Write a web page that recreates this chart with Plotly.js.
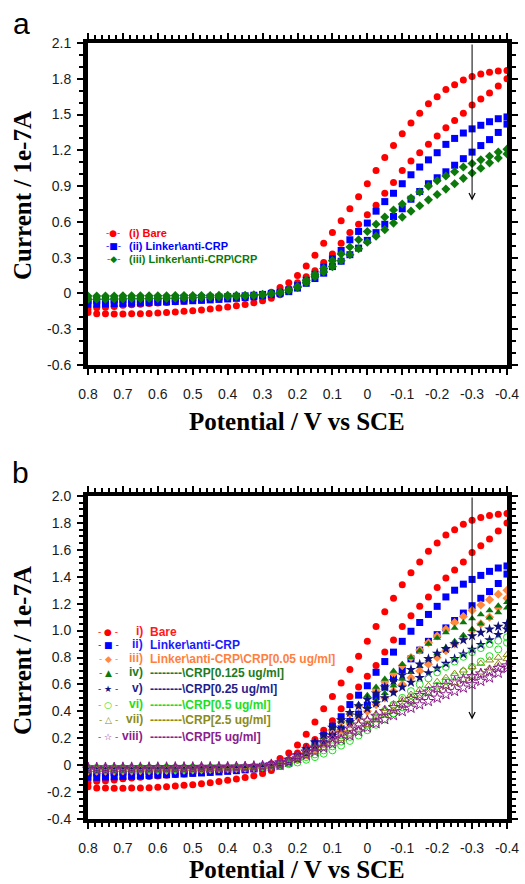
<!DOCTYPE html>
<html><head><meta charset="utf-8">
<script src="https://cdn.plot.ly/plotly-3.0.1.min.js"></script>
<style>html,body{margin:0;padding:0;background:#fff;} #chart{width:525px;height:884px;}</style>
</head><body><div id="chart"></div>
<script>
// Potential grid (V vs SCE), shared by every sweep
const potential = [0.8,0.775,0.75,0.725,0.7,0.675,0.65,0.625,0.6,0.575,0.55,0.525,0.5,0.475,0.45,0.425,0.4,0.375,0.35,0.325,0.3,0.275,0.25,0.225,0.2,0.175,0.15,0.125,0.1,0.075,0.05,0.025,0,-0.025,-0.05,-0.075,-0.1,-0.125,-0.15,-0.175,-0.2,-0.225,-0.25,-0.275,-0.3,-0.325,-0.35,-0.375,-0.4];

// (i) Bare
const bareFwd = [-0.13,-0.12,-0.115,-0.11,-0.10,-0.095,-0.09,-0.085,-0.08,-0.075,-0.07,-0.065,-0.06,-0.055,-0.05,-0.045,-0.04,-0.035,-0.03,-0.02,-0.01,0.01,0.05,0.09,0.15,0.23,0.32,0.42,0.51,0.61,0.71,0.81,0.92,1.03,1.14,1.24,1.34,1.43,1.51,1.59,1.65,1.71,1.75,1.79,1.82,1.84,1.855,1.865,1.87];
const bareRev = [-0.16,-0.17,-0.17,-0.172,-0.172,-0.17,-0.17,-0.168,-0.165,-0.16,-0.155,-0.15,-0.145,-0.138,-0.13,-0.122,-0.113,-0.103,-0.092,-0.078,-0.062,-0.04,-0.01,0.04,0.09,0.14,0.19,0.26,0.33,0.42,0.51,0.58,0.66,0.74,0.84,0.93,1.03,1.11,1.18,1.25,1.32,1.39,1.45,1.51,1.58,1.63,1.68,1.74,1.80];
// (ii) Linker\anti-CRP
const linkerFwd = [-0.06,-0.058,-0.056,-0.054,-0.052,-0.05,-0.048,-0.046,-0.044,-0.042,-0.04,-0.038,-0.036,-0.034,-0.032,-0.03,-0.027,-0.024,-0.02,-0.015,-0.008,0.0,0.01,0.03,0.065,0.11,0.16,0.22,0.29,0.36,0.45,0.52,0.59,0.69,0.77,0.84,0.92,0.995,1.06,1.12,1.18,1.25,1.30,1.345,1.38,1.41,1.44,1.465,1.48];
const linkerRev = [-0.09,-0.09,-0.088,-0.086,-0.084,-0.082,-0.08,-0.077,-0.074,-0.071,-0.068,-0.065,-0.061,-0.058,-0.054,-0.05,-0.046,-0.041,-0.035,-0.028,-0.02,-0.01,0.0,0.015,0.045,0.085,0.125,0.17,0.225,0.27,0.325,0.38,0.445,0.51,0.58,0.645,0.71,0.79,0.855,0.92,0.97,1.02,1.075,1.13,1.185,1.24,1.29,1.35,1.42];
// (iii) Linker\anti-CRP\CRP  (panel b: iv 0.125 ug/ml)
const crpFwd = [-0.022,-0.022,-0.021,-0.021,-0.02,-0.02,-0.02,-0.019,-0.019,-0.019,-0.018,-0.018,-0.018,-0.017,-0.017,-0.016,-0.016,-0.015,-0.015,-0.012,-0.008,0.0,0.01,0.03,0.06,0.11,0.16,0.21,0.275,0.33,0.39,0.45,0.52,0.58,0.64,0.70,0.75,0.80,0.85,0.90,0.945,0.985,1.02,1.06,1.09,1.12,1.15,1.185,1.21];
const crpRev = [-0.05,-0.049,-0.048,-0.047,-0.046,-0.045,-0.044,-0.043,-0.042,-0.041,-0.04,-0.038,-0.036,-0.034,-0.032,-0.03,-0.028,-0.025,-0.022,-0.017,-0.012,-0.005,0.005,0.025,0.05,0.09,0.14,0.18,0.225,0.275,0.325,0.375,0.43,0.48,0.535,0.59,0.64,0.69,0.735,0.785,0.83,0.875,0.92,0.965,1.01,1.05,1.095,1.135,1.17];
// iii) CRP 0.05 ug/ml
const crp005Fwd = [-0.03,-0.03,-0.029,-0.029,-0.028,-0.028,-0.027,-0.027,-0.026,-0.026,-0.025,-0.025,-0.024,-0.023,-0.022,-0.021,-0.02,-0.018,-0.016,-0.013,-0.009,-0.003,0.008,0.025,0.055,0.095,0.14,0.20,0.26,0.32,0.38,0.44,0.50,0.56,0.62,0.68,0.74,0.80,0.855,0.91,0.96,1.01,1.06,1.105,1.15,1.19,1.23,1.27,1.30];
const crp005Rev = [-0.045,-0.045,-0.044,-0.044,-0.043,-0.043,-0.042,-0.041,-0.04,-0.039,-0.038,-0.037,-0.035,-0.033,-0.031,-0.029,-0.027,-0.025,-0.022,-0.018,-0.014,-0.008,0.002,0.018,0.04,0.075,0.115,0.16,0.21,0.255,0.305,0.35,0.40,0.45,0.50,0.55,0.60,0.65,0.70,0.75,0.80,0.85,0.90,0.95,1.00,1.05,1.10,1.17,1.24];
// v) CRP 0.25 ug/ml
const crp025Fwd = [-0.02,-0.02,-0.02,-0.02,-0.019,-0.019,-0.019,-0.018,-0.018,-0.018,-0.017,-0.017,-0.016,-0.016,-0.015,-0.015,-0.014,-0.013,-0.012,-0.01,-0.006,0.0,0.015,0.04,0.075,0.12,0.17,0.225,0.28,0.335,0.39,0.44,0.49,0.535,0.58,0.625,0.67,0.71,0.75,0.79,0.83,0.865,0.90,0.93,0.96,0.985,1.01,1.03,1.05];
const crp025Rev = [-0.04,-0.04,-0.039,-0.039,-0.038,-0.038,-0.037,-0.037,-0.036,-0.035,-0.034,-0.033,-0.032,-0.031,-0.03,-0.028,-0.026,-0.024,-0.021,-0.017,-0.013,-0.007,0.003,0.02,0.045,0.08,0.125,0.17,0.22,0.27,0.32,0.37,0.42,0.46,0.50,0.54,0.58,0.615,0.65,0.685,0.72,0.755,0.79,0.825,0.86,0.895,0.93,0.97,1.01];
// vi) CRP 0.5 ug/ml
const crp05Fwd = [-0.02,-0.02,-0.02,-0.02,-0.02,-0.02,-0.019,-0.019,-0.019,-0.018,-0.018,-0.018,-0.017,-0.017,-0.016,-0.016,-0.015,-0.014,-0.013,-0.011,-0.009,-0.005,0.0,0.015,0.04,0.06,0.08,0.11,0.14,0.175,0.21,0.255,0.30,0.35,0.40,0.45,0.50,0.55,0.60,0.645,0.69,0.73,0.77,0.805,0.84,0.87,0.90,0.925,0.95];
const crp05Rev = [-0.035,-0.035,-0.034,-0.034,-0.033,-0.033,-0.032,-0.032,-0.031,-0.031,-0.03,-0.029,-0.028,-0.027,-0.026,-0.025,-0.024,-0.022,-0.02,-0.017,-0.014,-0.01,-0.003,0.007,0.02,0.04,0.06,0.085,0.11,0.145,0.18,0.22,0.26,0.30,0.34,0.385,0.43,0.47,0.51,0.55,0.59,0.625,0.66,0.695,0.73,0.77,0.81,0.86,0.91];
// vii) CRP 2.5 ug/ml
const crp25Fwd = [-0.02,-0.02,-0.02,-0.02,-0.019,-0.019,-0.019,-0.018,-0.018,-0.018,-0.017,-0.017,-0.016,-0.016,-0.015,-0.015,-0.014,-0.013,-0.012,-0.009,-0.005,0.005,0.02,0.04,0.07,0.10,0.13,0.165,0.20,0.235,0.27,0.305,0.34,0.38,0.42,0.455,0.49,0.525,0.56,0.59,0.62,0.65,0.68,0.705,0.73,0.755,0.78,0.80,0.82];
const crp25Rev = [-0.035,-0.035,-0.034,-0.034,-0.033,-0.033,-0.032,-0.032,-0.031,-0.031,-0.03,-0.029,-0.028,-0.027,-0.026,-0.025,-0.024,-0.022,-0.02,-0.017,-0.014,-0.008,0.0,0.025,0.05,0.075,0.10,0.13,0.16,0.195,0.23,0.265,0.30,0.335,0.37,0.405,0.44,0.47,0.50,0.53,0.56,0.585,0.61,0.635,0.66,0.69,0.72,0.755,0.79];
// viii) CRP 5 ug/ml
const crp5Fwd = [-0.018,-0.018,-0.018,-0.018,-0.017,-0.017,-0.017,-0.016,-0.016,-0.016,-0.015,-0.015,-0.015,-0.014,-0.014,-0.013,-0.013,-0.012,-0.011,-0.008,-0.005,0.005,0.02,0.04,0.07,0.10,0.13,0.165,0.20,0.235,0.27,0.30,0.33,0.365,0.40,0.43,0.46,0.49,0.52,0.545,0.57,0.595,0.62,0.64,0.66,0.68,0.70,0.72,0.74];
const crp5Rev = [-0.03,-0.03,-0.03,-0.029,-0.029,-0.029,-0.028,-0.028,-0.028,-0.027,-0.027,-0.026,-0.026,-0.025,-0.024,-0.023,-0.022,-0.021,-0.019,-0.016,-0.013,-0.008,0.0,0.025,0.05,0.075,0.10,0.13,0.16,0.19,0.22,0.25,0.28,0.31,0.34,0.37,0.40,0.425,0.45,0.475,0.50,0.525,0.55,0.575,0.60,0.625,0.65,0.685,0.72];

// Tick labels
const xTickVals = [0.8,0.7,0.6,0.5,0.4,0.3,0.2,0.1,0,-0.1,-0.2,-0.3,-0.4];
const xTickText = ['0.8','0.7','0.6','0.5','0.4','0.3','0.2','0.1','0','-0.1','-0.2','-0.3','-0.4'];
const yTickValsA = [2.1,1.8,1.5,1.2,0.9,0.6,0.3,0,-0.3,-0.6];
const yTickTextA = ['2.1','1.8','1.5','1.2','0.9','0.6','0.3','0','-0.3','-0.6'];
const yTickValsB = [2.0,1.8,1.6,1.4,1.2,1.0,0.8,0.6,0.4,0.2,0,-0.2,-0.4];
const yTickTextB = ['2.0','1.8','1.6','1.4','1.2','1.0','0.8','0.6','0.4','0.2','0','-0.2','-0.4'];

// Legend texts
const legendA = ['(i) Bare','(ii) Linker\\anti-CRP','(iii) Linker\\anti-CRP\\CRP'];
const legendBNum = ['i)','ii)','iii)','iv)','v)','vi)','vii)','viii)'];
const legendBText = ['Bare','Linker\\anti-CRP','Linker\\anti-CRP\\CRP[0.05 ug/ml]','--------\\CRP[0.125 ug/ml]','--------\\CRP[0.25 ug/ml]','--------\\CRP[0.5 ug/ml]','--------\\CRP[2.5 ug/ml]','--------\\CRP[5 ug/ml]'];

// Styles
const stA = [
  {fwd:bareFwd, rev:bareRev, color:'#ff0000', symbol:'circle', size:7, glyph:'-●-'},
  {fwd:linkerFwd, rev:linkerRev, color:'#0000ff', symbol:'square', size:7, glyph:'-■-'},
  {fwd:crpFwd, rev:crpRev, color:'#0b7a0b', symbol:'diamond', size:7, glyph:'-◆-'}
];
const stB = [
  {fwd:bareFwd, rev:bareRev, color:'#ff0000', symbol:'circle', size:7, glyph:'- ● -'},
  {fwd:linkerFwd, rev:linkerRev, color:'#0000ff', symbol:'square', size:7, glyph:'- ■ -'},
  {fwd:crp005Fwd, rev:crp005Rev, color:'#ff8a3d', symbol:'diamond', size:7, glyph:'- ◆ -'},
  {fwd:crpFwd, rev:crpRev, color:'#0b7a0b', symbol:'triangle-up', size:7, glyph:'- ▲ -'},
  {fwd:crp025Fwd, rev:crp025Rev, color:'#12127e', symbol:'star', size:8, glyph:'- ★ -'},
  {fwd:crp05Fwd, rev:crp05Rev, color:'#22e022', symbol:'circle-open', size:7, glyph:'- ○ -'},
  {fwd:crp25Fwd, rev:crp25Rev, color:'#8c8c1c', symbol:'triangle-up-open', size:7, glyph:'- △ -'},
  {fwd:crp5Fwd, rev:crp5Rev, color:'#8a1c8a', symbol:'star-open', size:8, glyph:'- ☆ -'}
];
const textColB = ['#ff1a1a','#1a1aff','#ff7f3f','#1e7b1e','#1f1f8c','#22dd22','#8b8b20','#8b208b'];

function loopTrace(s, xa, ya){
  return {
    x: potential.concat(potential.slice().reverse()),
    y: s.fwd.concat(s.rev.slice().reverse()),
    xaxis: xa, yaxis: ya, type:'scatter', mode:'markers', hoverinfo:'skip', cliponaxis:false,
    marker:{symbol:s.symbol, size:s.size, color:s.color, line:{width: s.symbol.indexOf('open')>=0 ? 1 : 0, color:s.color}}
  };
}
const data = [];
stA.forEach(s => data.push(loopTrace(s,'x','y')));
stB.forEach(s => data.push(loopTrace(s,'x2','y2')));

const SANS = 'Liberation Sans, Arial, sans-serif';
const SERIF = 'Liberation Serif, Times New Roman, serif';
function xAx(anchor){
  return {domain:[88/525, 507/525], range:[0.8,-0.4], anchor:anchor, tickmode:'array', tickvals:xTickVals, ticktext:xTickText,
    ticks:'outside', ticklen:6, tickwidth:2, tickcolor:'#000', showline:true, linewidth:4, linecolor:'#000', mirror:'ticks',
    showgrid:false, zeroline:false, automargin:false, ticklabelstandoff:7,
    tickfont:{family:SANS, size:14, color:'#1a1a1a'},
    minor:{dtick:0.02, tick0:0, ticks:'outside', ticklen:4, tickwidth:2, tickcolor:'#000', showgrid:false}};
}
function yAx(anchor, dom, rng, tv, tt, mdt){
  return {domain:dom, range:rng, anchor:anchor, tickmode:'array', tickvals:tv, ticktext:tt,
    ticks:'outside', ticklen:6, tickwidth:2, tickcolor:'#000', showline:true, linewidth:5, linecolor:'#000', mirror:'ticks',
    showgrid:false, zeroline:false, automargin:false, ticklabelstandoff:3,
    tickfont:{family:SANS, size:14, color:'#1a1a1a'},
    minor:{dtick:mdt, tick0:0, ticks:'outside', ticklen:4, tickwidth:2, tickcolor:'#000', showgrid:false}};
}

const ann = [];
function pap(px, py){ return {x: px/525, y: 1 - py/884}; }
function addText(px, py, text, opts){
  const p = pap(px, py);
  ann.push(Object.assign({xref:'paper', yref:'paper', x:p.x, y:p.y, text:text, showarrow:false, xanchor:'center', yanchor:'middle'}, opts));
}
// panel letters
addText(21, 23, 'a', {font:{family:SANS, size:30, color:'#000'}});
addText(20, 472, 'b', {font:{family:SANS, size:30, color:'#000'}});
// axis titles
addText(22, 196, '<b>Current / 1e-7A</b>', {textangle:-90, font:{family:SERIF, size:25, color:'#000'}});
addText(297, 421, '<b>Potential / V vs SCE</b>', {font:{family:SERIF, size:25, color:'#000'}});
addText(22, 651, '<b>Current / 1e-7A</b>', {textangle:-90, font:{family:SERIF, size:25, color:'#000'}});
addText(297, 869, '<b>Potential / V vs SCE</b>', {font:{family:SERIF, size:25, color:'#000'}});
// legend a
const legAy = [233, 245.5, 258.5];
stA.forEach((s,i) => {
  addText(113, legAy[i], s.glyph, {font:{family:'DejaVu Sans', size:9, color:s.color}});
  addText(127, legAy[i], '<b>'+legendA[i]+'</b>', {xanchor:'left', font:{family:SANS, size:11, color:s.color}});
});
// legend b
const legBy = [632, 645, 658.5, 673, 688.5, 705, 720, 736.5];
stB.forEach((s,i) => {
  addText(108, legBy[i], s.glyph, {font:{family:'DejaVu Sans', size:9, color:s.color}});
  addText(145, legBy[i]-1, '<b>'+legendBNum[i]+'</b>', {xanchor:'right', font:{family:SANS, size:12, color:textColB[i]}});
  addText(148, legBy[i], '<b>'+legendBText[i]+'</b>', {xanchor:'left', font:{family:SANS, size:12, color:textColB[i]}});
});
// arrows (trend of decreasing current)
ann.push({xref:'x', yref:'y', axref:'x', ayref:'y', x:-0.3, y:0.78, ax:-0.3, ay:2.1, text:'', showarrow:true, arrowhead:5, arrowsize:1.2, arrowwidth:1, arrowcolor:'#000', standoff:0});
ann.push({xref:'x2', yref:'y2', axref:'x2', ayref:'y2', x:-0.3, y:0.34, ax:-0.3, ay:2.0, text:'', showarrow:true, arrowhead:5, arrowsize:1.2, arrowwidth:1, arrowcolor:'#000', standoff:0});

const layout = {
  width:525, height:884, margin:{l:0, r:0, t:0, b:0}, showlegend:false,
  paper_bgcolor:'#fff', plot_bgcolor:'#fff',
  xaxis: xAx('y'),
  yaxis: yAx('x', [1-365/884, 1-43/884], [-0.6, 2.1], yTickValsA, yTickTextA, 0.1),
  xaxis2: xAx('y2'),
  yaxis2: yAx('x2', [1-819/884, 1-496/884], [-0.4, 2.0], yTickValsB, yTickTextB, 0.05),
  annotations: ann
};
Plotly.newPlot('chart', data, layout, {staticPlot:true, displayModeBar:false});
</script></body></html>
